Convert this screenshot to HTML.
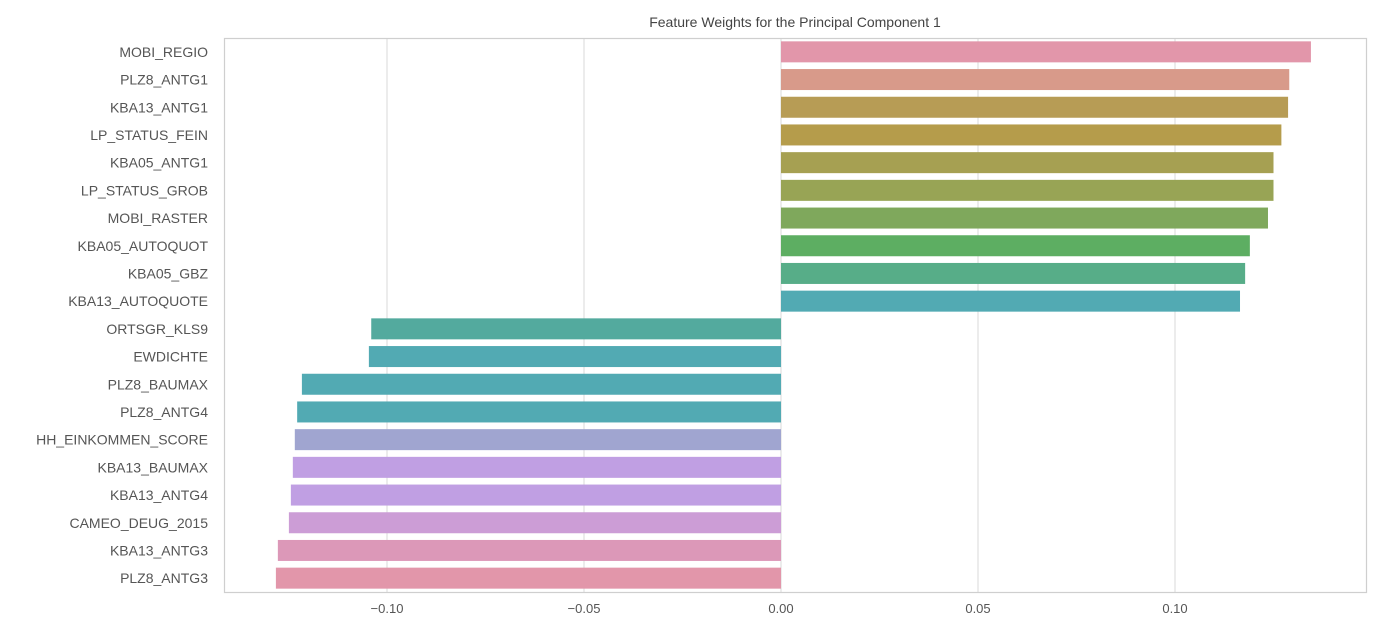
<!DOCTYPE html>
<html><head><meta charset="utf-8"><style>
html,body{margin:0;padding:0;background:#fff;}
svg{display:block;font-family:"Liberation Sans",sans-serif;}
</style></head><body>
<svg id="chart" width="1400" height="626">
<text x="795" y="27" text-anchor="middle" font-size="14" fill="#444">Feature Weights for the Principal Component 1</text>
<g id="grid"></g><g id="bars"></g><g id="ylabels"></g><g id="xticks"></g>
<rect x="224.5" y="38.5" width="1142" height="554" fill="none" stroke="#cfcfcf" stroke-width="1.2"/>
</svg>
<script>
const categories=["MOBI_REGIO","PLZ8_ANTG1","KBA13_ANTG1","LP_STATUS_FEIN","KBA05_ANTG1","LP_STATUS_GROB","MOBI_RASTER","KBA05_AUTOQUOT","KBA05_GBZ","KBA13_AUTOQUOTE","ORTSGR_KLS9","EWDICHTE","PLZ8_BAUMAX","PLZ8_ANTG4","HH_EINKOMMEN_SCORE","KBA13_BAUMAX","KBA13_ANTG4","CAMEO_DEUG_2015","KBA13_ANTG3","PLZ8_ANTG3"];
const weights=[0.1345,0.129,0.1287,0.127,0.125,0.125,0.1236,0.119,0.1178,0.1165,-0.104,-0.1046,-0.1216,-0.1228,-0.1234,-0.1239,-0.1244,-0.1249,-0.1277,-0.1282];
const barColors=["#e296aa","#d89a8a","#b79c55","#b59c4b","#a6a052","#98a455","#7fa85c","#5dae62","#57ad88","#52aab3","#53aa9e","#52aab3","#52aab3","#52aab3","#a0a5d0","#c09fe3","#c09fe3","#cc9dd6","#dc98b8","#e296aa"];
const xTicks=[-0.10,-0.05,0.00,0.05,0.10];
const xTickLabels=["\u22120.10","\u22120.05","0.00","0.05","0.10"];
const NS="http://www.w3.org/2000/svg";
const plotTop=38,plotBottom=592;
const xScale=v=>781+v*3940;
const rowH=(plotBottom-plotTop)/categories.length;
const yCenter=i=>plotTop+rowH*(i+0.5);
function mk(t,a,p){const e=document.createElementNS(NS,t);for(const k in a)e.setAttribute(k,a[k]);p.appendChild(e);return e;}
const grid=document.getElementById('grid'),bars=document.getElementById('bars'),yl=document.getElementById('ylabels'),xt=document.getElementById('xticks');
xTicks.forEach((t,i)=>{
 const l=mk('line',{x1:xScale(t),x2:xScale(t),y1:plotTop,y2:plotBottom,stroke:'#d8d8d8','stroke-width':1},grid);
 
 
 const tx=mk('text',{x:xScale(t),y:613,'text-anchor':'middle','font-size':13,fill:'#555'},xt);
 tx.textContent=xTickLabels[i];
 
 
});
categories.forEach((c,i)=>{
 const v=weights[i],x0=xScale(0),x1=xScale(v);
 const r=mk('rect',{x:Math.min(x0,x1),y:yCenter(i)-10.5,width:Math.abs(x1-x0),height:21,fill:barColors[i]},bars);
 
 
 const t=mk('text',{x:208,y:yCenter(i)+5,'text-anchor':'end','font-size':14,fill:'#555'},yl);
 t.textContent=c;
 
 
});
</script>
</body></html>
